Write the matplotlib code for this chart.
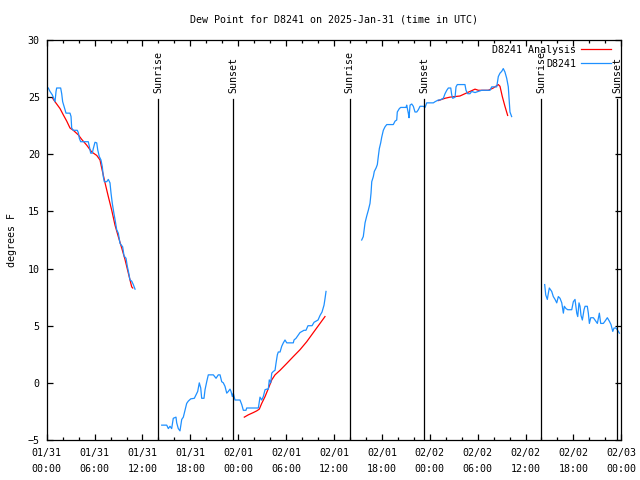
import matplotlib
matplotlib.use("Agg")
import matplotlib.pyplot as plt
import matplotlib.transforms as mtransforms

plt.rcParams['font.family'] = ['DejaVu Sans Mono']
plt.rcParams['font.size'] = 7.2

# hours since 01/31 00:00 UTC, dew point in degrees F
obs_seg1_t = [0.2, 0.41, 0.70, 1.04, 1.17, 1.25, 1.75, 1.88, 2.0, 2.17, 2.42, 2.92, 3.05, 3.13, 3.33,
              3.83, 3.96, 4.09, 4.26, 5.21, 5.34, 5.51, 5.71, 5.84, 6.05, 6.27, 6.39, 6.59, 6.80, 6.97,
              7.09, 7.22, 7.52, 7.72, 7.93, 8.06, 8.22, 8.43, 8.56, 8.77, 8.97, 9.19, 9.52, 9.69, 9.94,
              10.1, 10.28, 10.44, 10.65, 10.85, 11.07]
obs_seg1_v = [25.8, 25.5, 25.2, 24.6, 25.5, 25.8, 25.8, 25.3, 24.6, 24.2, 23.6, 23.6, 23.3, 22.3, 22.1,
              22.1, 21.9, 21.4, 21.1, 21.1, 20.7, 20.1, 20.1, 20.5, 21.05, 21.0, 20.4, 19.8, 19.5, 18.9,
              18.05, 17.6, 17.6, 17.8, 17.5, 16.6, 15.7, 14.8, 14.3, 13.4, 13.1, 12.2, 11.9, 11.1, 10.9,
              10.2, 9.6, 9.0, 8.9, 8.6, 8.2]

obs_seg2_t = [14.41, 15.04, 15.24, 15.45, 15.66, 15.86, 16.2, 16.29, 16.49, 16.7, 16.92, 17.12, 17.33,
              17.54, 17.74, 18.05, 18.5, 18.71, 18.92, 19.12, 19.3, 19.42, 19.71, 19.84, 20.05, 20.25,
              20.88, 21.22, 21.5, 21.72, 21.93, 22.13, 22.34, 22.56, 22.76, 22.97, 23.1, 23.26, 23.38,
              23.59, 24.22, 24.44, 24.64, 24.97, 25.06, 26.32, 26.52, 26.73, 26.94, 27.14, 27.36, 27.57,
              27.77, 27.89, 28.07, 28.2, 28.4, 28.61, 28.73, 28.9, 29.02, 29.24, 29.45, 29.65, 29.86,
              30.08, 30.9, 30.99, 31.24, 31.74, 32.24, 32.49, 32.74, 33.25, 33.5, 34.0, 34.25, 34.5,
              34.75, 34.88, 35.0]
obs_seg2_v = [-3.7, -3.7, -4.0, -3.8, -4.0, -3.1, -3.0, -3.5, -4.0, -4.2, -3.2, -3.0, -2.4,
              -1.8, -1.6, -1.4, -1.35, -1.05, -0.75, 0.0, -0.45, -1.35, -1.35, -0.6, 0.1, 0.7,
              0.7, 0.4, 0.7, 0.7, 0.1, 0.0, -0.3, -0.9, -0.75, -0.55, -0.75, -1.2, -0.9,
              -1.5, -1.5, -1.9, -2.4, -2.4, -2.2, -2.2, -2.2, -1.25, -1.5, -1.2, -0.6, -0.55,
              -0.55, 0.26, 0.0, 0.85, 1.0, 1.1, 1.7, 2.45, 2.7, 2.7, 3.2, 3.5, 3.75,
              3.5, 3.5, 3.75, 3.9, 4.4, 4.6, 4.6, 5.0, 5.0, 5.3, 5.5, 5.9, 6.2,
              6.8, 7.4, 8.0]

obs_seg3_t = [39.47, 39.67, 39.89, 40.1, 40.3, 40.51, 40.64, 40.73, 40.93, 41.05, 41.27, 41.43, 41.55,
              41.68, 41.85, 41.98, 42.18, 42.39, 42.61, 43.43, 43.65, 43.86, 43.93, 44.19, 44.36, 45.02,
              45.11, 45.31, 45.4, 45.53, 45.74, 45.94, 46.15, 46.37, 46.57, 46.78, 47.19, 47.41, 47.62,
              48.45, 48.66, 49.07, 49.28, 49.7, 49.91, 50.13, 50.33, 50.63, 50.75, 50.88, 51.17, 51.29,
              51.45, 52.41, 52.54, 52.75, 53.04, 53.25, 53.67, 54.08, 54.51, 55.55, 55.76, 56.39, 56.59,
              56.8, 57.01, 57.21, 57.42, 57.64, 57.84, 58.05, 58.26]
obs_seg3_v = [12.5, 12.8, 14.0, 14.6, 15.1, 15.7, 16.6, 17.6, 18.05, 18.5, 18.8, 19.1, 19.8,
              20.5, 21.0, 21.5, 22.1, 22.4, 22.6, 22.6, 22.9, 23.0, 23.7, 24.0, 24.1, 24.1,
              24.3, 23.6, 23.2, 24.3, 24.4, 24.2, 23.7, 23.7, 23.9, 24.2, 24.2, 24.1, 24.5,
              24.5, 24.6, 24.75, 24.75, 24.9, 25.3, 25.6, 25.8, 25.8, 25.2, 24.9, 25.0, 25.9,
              26.1, 26.1, 25.6, 25.3, 25.3, 25.5, 25.4, 25.5, 25.6, 25.6, 25.9, 25.9, 26.8,
              27.1, 27.25, 27.5, 27.2, 26.65, 25.9, 23.7, 23.3]

obs_seg4_t = [62.4, 62.53, 62.73, 62.86, 62.98, 63.28, 63.48, 63.7, 63.91, 64.11, 64.32, 64.54, 64.74,
              64.86, 65.07, 65.29, 65.79, 65.99, 66.2, 66.42, 66.54, 66.7, 66.83, 66.95, 67.12, 67.33,
              67.46, 67.74, 67.87, 68.0, 68.17, 68.5, 68.8, 69.0, 69.25, 69.42, 69.75, 69.96, 70.25,
              70.5, 70.71, 70.93, 71.09, 71.34, 71.63, 71.76]
obs_seg4_v = [8.6, 7.7, 7.3, 7.85, 8.3, 8.0, 7.55, 7.3, 7.0, 7.55, 7.4, 7.0, 6.1,
              6.7, 6.5, 6.4, 6.4, 7.1, 7.3, 6.1, 5.8, 7.0, 6.7, 5.9, 5.5, 6.4,
              6.7, 6.7, 6.1, 5.2, 5.7, 5.7, 5.4, 5.2, 6.1, 5.2, 5.2, 5.4, 5.7,
              5.4, 5.1, 4.5, 4.8, 4.8, 4.5, 4.35]

ana_seg1_t = [0.75, 1.04, 1.67, 2.08, 2.51, 2.92, 3.33, 3.96, 4.39, 5.01, 5.64, 6.27, 6.68, 6.89,
              7.31, 7.72, 8.15, 8.56, 8.97, 9.40, 9.81, 10.23, 10.65, 10.78]
ana_seg1_v = [24.9, 24.6, 24.0, 23.45, 22.9, 22.3, 22.1, 21.7, 21.3, 20.8, 20.2, 19.9, 19.5, 18.8,
              17.5, 16.3, 15.1, 13.8, 12.8, 11.8, 10.8, 9.6, 8.4, 8.3]

ana_seg2_t = [24.76, 25.26, 25.89, 26.32, 26.64, 26.94, 27.36, 27.77, 28.2, 28.61, 29.24, 30.08,
              30.9, 31.74, 32.58, 33.62, 34.87]
ana_seg2_v = [-3.0, -2.8, -2.6, -2.45, -2.3, -1.8, -1.2, -0.5, 0.26, 0.7, 1.1, 1.7,
              2.3, 2.9, 3.6, 4.6, 5.8]

ana_seg3_t = [49.07, 49.91, 50.53, 51.16, 51.78, 52.41, 53.04, 53.67, 54.08, 54.71, 55.34, 55.96,
              56.59, 56.8, 57.09, 57.42, 57.76]
ana_seg3_v = [24.7, 24.9, 25.0, 25.05, 25.1, 25.3, 25.5, 25.7, 25.6, 25.6, 25.6, 25.8,
              26.1, 25.95, 25.05, 24.2, 23.4]

sun_times = [13.98, 23.38, 37.95, 47.33, 61.97, 71.45]
sun_labels = ["Sunrise", "Sunset", "Sunrise", "Sunset", "Sunrise", "Sunset"]

tick_hours = list(range(0, 73, 6))
tick_labels = ["01/31\n00:00", "01/31\n06:00", "01/31\n12:00", "01/31\n18:00",
               "02/01\n00:00", "02/01\n06:00", "02/01\n12:00", "02/01\n18:00",
               "02/02\n00:00", "02/02\n06:00", "02/02\n12:00", "02/02\n18:00",
               "02/03\n00:00"]

blue = '#1e90ff'
red = '#ff0000'

fig = plt.figure(figsize=(6.4, 4.8), dpi=100)
ax = fig.add_axes([46.7 / 640, 40 / 480, 574.6 / 640, 400 / 480])

ana = [(ana_seg1_t, ana_seg1_v), (ana_seg2_t, ana_seg2_v), (ana_seg3_t, ana_seg3_v)]
obs = [(obs_seg1_t, obs_seg1_v), (obs_seg2_t, obs_seg2_v),
       (obs_seg3_t, obs_seg3_v), (obs_seg4_t, obs_seg4_v)]

for i, (t, v) in enumerate(ana):
    ax.plot(t, v, color=red, lw=0.9, label='D8241 Analysis' if i == 0 else None)
for i, (t, v) in enumerate(obs):
    ax.plot(t, v, color=blue, lw=0.9, label='D8241' if i == 0 else None)

# sunrise / sunset markers
trans = mtransforms.blended_transform_factory(ax.transData, ax.transAxes)
for t, lab in zip(sun_times, sun_labels):
    ax.axvline(t, ymin=0, ymax=0.8525, color='black', lw=0.9)
    ax.text(t, 0.8675, lab, transform=trans, rotation=90, ha='center', va='bottom')

ax.set_xlim(0, 72)
ax.set_ylim(-5, 30)
ax.set_xticks(tick_hours)
ax.set_xticklabels(tick_labels, linespacing=1.7)
ax.set_xticks(range(0, 73, 2), minor=True)
ax.set_yticks(range(-5, 31, 5))
ax.tick_params(which='both', direction='in', top=True, right=True, width=0.9)
ax.tick_params(which='major', length=4.5, pad=5)
ax.tick_params(axis='x', which='major', pad=6)
ax.tick_params(which='minor', length=2.2)
for s in ax.spines.values():
    s.set_linewidth(0.9)

ax.set_ylabel('degrees F', labelpad=8)
ax.set_title('Dew Point for D8241 on 2025-Jan-31 (time in UTC)', fontsize=7.2, pad=12.5)

ax.legend(loc='upper right', bbox_to_anchor=(1.0, 1.013), frameon=False, markerfirst=False,
          handlelength=3.0, borderaxespad=0.6, labelspacing=0.38, handletextpad=0.5)

fig.savefig('out.png', dpi=100)
